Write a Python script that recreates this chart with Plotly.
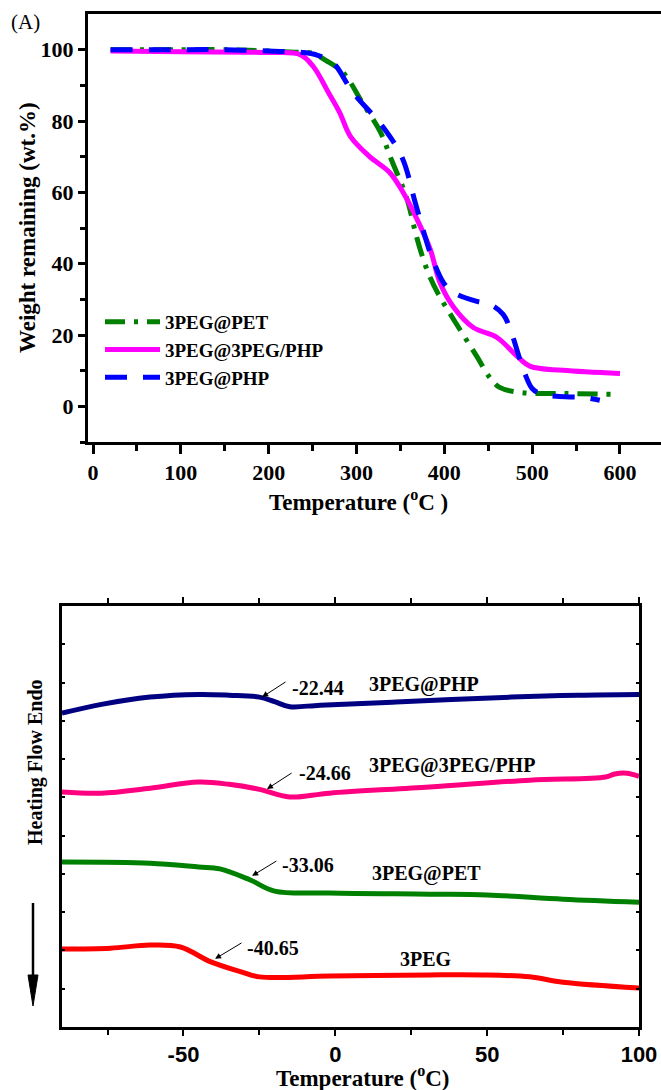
import plotly.graph_objects as go

# ---------------- TGA data (top panel) ----------------
pet_T = [20, 100, 150, 200, 230, 250, 265, 285, 307, 327, 340, 357, 369, 380, 392, 412, 437, 452, 463, 486, 535, 592]
pet_W = [100, 100, 100, 99.6, 99.3, 99.0, 97.0, 93.5, 85.0, 77.0, 69.0, 58.5, 47.0, 38.5, 32.0, 23.8, 14.0, 8.0, 5.3, 3.9, 3.6, 3.4]

mix_T = [20, 100, 200, 236, 251, 268, 281, 293, 315, 338, 353, 369, 384, 395, 410, 433, 460, 483, 498, 535, 600]
mix_W = [99.6, 99.4, 99.2, 98.6, 95.2, 88.0, 82.3, 75.7, 70.0, 65.5, 60.0, 52.4, 44.0, 34.7, 28.0, 22.1, 19.3, 14.0, 11.2, 10.1, 9.2]

php_T = [20, 100, 150, 200, 240, 255, 273, 296, 330, 352, 367, 380, 384, 399, 410, 437, 452, 467, 475, 486, 492, 500, 509, 528, 558, 577]
php_W = [100, 100, 100, 99.6, 99.2, 98.5, 96.4, 88.0, 78.4, 69.7, 57.0, 46.0, 43.0, 34.7, 32.0, 29.4, 28.6, 25.8, 21.6, 13.2, 9.0, 5.0, 3.6, 2.8, 2.5, 1.7]

tga_names = ["3PEG@PET", "3PEG@3PEG/PHP", "3PEG@PHP"]
tga_xticks = [0, 100, 200, 300, 400, 500, 600]
tga_yticks = [0, 20, 40, 60, 80, 100]

# ---------------- DSC data (bottom panel) ----------------
dsc_php_T = [-90, -77, -61, -45, -35, -25, -20, -15, -5, 20, 58, 80, 100]
dsc_php_H = [8.20, 8.43, 8.62, 8.69, 8.67, 8.62, 8.50, 8.37, 8.41, 8.49, 8.62, 8.67, 8.69]

dsc_mix_T = [-90, -77, -61, -45, -35, -25, -15, -2, 31, 64, 89, 92, 96, 100]
dsc_mix_H = [6.14, 6.11, 6.24, 6.40, 6.34, 6.21, 6.01, 6.11, 6.27, 6.45, 6.53, 6.61, 6.63, 6.55]

dsc_pet_T = [-90, -61, -45, -38, -28, -20, -2, 31, 50, 75, 100]
dsc_pet_H = [4.31, 4.28, 4.18, 4.13, 3.84, 3.55, 3.50, 3.47, 3.45, 3.34, 3.26]

dsc_peg_T = [-90, -74, -61, -51, -41, -31, -25, -2, 31, 48, 64, 75, 100]
dsc_peg_H = [2.04, 2.06, 2.14, 2.09, 1.70, 1.44, 1.31, 1.33, 1.36, 1.36, 1.31, 1.17, 1.02]

tg_labels = ["-22.44", "-24.66", "-33.06", "-40.65"]
dsc_names = ["3PEG@PHP", "3PEG@3PEG/PHP", "3PEG@PET", "3PEG"]
dsc_xticks = [-50, 0, 50, 100]
dsc_xticktext = ["-50", "0", "50", "100"]

W, H = 661, 1090
SERIF = "Liberation Serif, Times New Roman, serif"

def px(x):
    return x / W

def py(y):
    return 1 - y / H

fig = go.Figure()

fig.add_trace(go.Scatter(x=pet_T, y=pet_W, name=tga_names[0], mode="lines",
                         line=dict(color="#008000", width=5, dash="20px,9px,4px,9px", shape="spline"),
                         xaxis="x", yaxis="y"))
fig.add_trace(go.Scatter(x=mix_T, y=mix_W, name=tga_names[1], mode="lines",
                         line=dict(color="#FF00FF", width=5, shape="spline"),
                         xaxis="x", yaxis="y"))
fig.add_trace(go.Scatter(x=php_T, y=php_W, name=tga_names[2], mode="lines",
                         line=dict(color="#0000FF", width=5, dash="22px,16px", shape="spline"),
                         xaxis="x", yaxis="y"))

dsc_sets = [(dsc_php_T, dsc_php_H, "#000080"),
            (dsc_mix_T, dsc_mix_H, "#FF0080"),
            (dsc_pet_T, dsc_pet_H, "#008000"),
            (dsc_peg_T, dsc_peg_H, "#FF0000")]
for (tx, hy, col), nm in zip(dsc_sets, dsc_names):
    fig.add_trace(go.Scatter(x=tx, y=hy, name=nm, mode="lines", showlegend=False,
                             line=dict(color=col, width=5, shape="spline"),
                             xaxis="x2", yaxis="y2"))

tick_font_serif = dict(family=SERIF, size=22, color="black", weight="bold")

fig.update_layout(
    width=W, height=H, autosize=False,
    margin=dict(l=0, r=0, t=0, b=0, pad=0),
    paper_bgcolor="white", plot_bgcolor="white",
    showlegend=True,
    legend=dict(x=px(100), y=py(303), xanchor="left", yanchor="top",
                font=dict(family=SERIF, size=19, color="black", weight="bold"),
                bgcolor="rgba(0,0,0,0)", itemwidth=55, tracegroupgap=0),
    xaxis=dict(domain=[px(88), 1.0], range=[-5.7, 646.7], anchor="y", automargin=False,
               showline=True, linecolor="black", linewidth=3, mirror=True,
               showgrid=False, zeroline=False,
               ticks="outside", ticklen=9, tickwidth=2.5, tickcolor="black",
               tickvals=tga_xticks,
               minor=dict(tickvals=[50, 150, 250, 350, 450, 550], ticks="outside", ticklen=6, tickwidth=2.5, tickcolor="black"),
               tickfont=tick_font_serif),
    yaxis=dict(domain=[py(442), py(14)], range=[-10, 110], anchor="x", automargin=False,
               showline=True, linecolor="black", linewidth=3,
               showgrid=False, zeroline=False,
               ticks="outside", ticklen=7, tickwidth=2.5, tickcolor="black",
               tickvals=tga_yticks,
               minor=dict(tickvals=[-10, 10, 30, 50, 70, 90], ticks="outside", ticklen=5, tickwidth=2.5, tickcolor="black"),
               tickfont=tick_font_serif),
    xaxis2=dict(domain=[px(62), px(639)], range=[-90, 100], anchor="y2", automargin=False,
                showline=True, linecolor="black", linewidth=3, mirror="ticks",
                showgrid=False, zeroline=False,
                ticks="outside", ticklen=6, tickwidth=2, tickcolor="black",
                tickvals=dsc_xticks, ticktext=dsc_xticktext,
                minor=dict(tickvals=[-75, -25, 25, 75], ticks="outside", ticklen=5, tickwidth=2, tickcolor="black"),
                tickfont=dict(family="Liberation Sans, Arial, sans-serif", size=22, color="black", weight="bold")),
    yaxis2=dict(domain=[py(1027), py(606)], range=[0, 11], anchor="x2", automargin=False,
                showline=True, linecolor="black", linewidth=3, mirror="ticks",
                showgrid=False, zeroline=False,
                ticks="inside", ticklen=3, tickwidth=1.5, tickcolor="black",
                tickvals=[1, 2, 3, 4, 5, 6, 7, 8, 9, 10], showticklabels=False),
)

ann = []
ann.append(dict(text="(A)", x=px(9), y=py(22), xref="paper", yref="paper", xanchor="left", yanchor="middle",
                showarrow=False, font=dict(family=SERIF, size=21, color="black")))
ann.append(dict(text="Weight remaining (wt.%)", x=px(27), y=py(228), xref="paper", yref="paper",
                xanchor="center", yanchor="middle", textangle=-90, showarrow=False,
                font=dict(family=SERIF, size=23, color="black", weight="bold")))
ann.append(dict(text="Temperature (<sup>o</sup>C )", x=px(358), y=py(500), xref="paper", yref="paper",
                xanchor="center", yanchor="middle", showarrow=False,
                font=dict(family=SERIF, size=23, color="black", weight="bold")))
ann.append(dict(text="Heating Flow Endo", x=px(35), y=py(762), xref="paper", yref="paper",
                xanchor="center", yanchor="middle", textangle=-90, showarrow=False,
                font=dict(family=SERIF, size=20, color="black", weight="bold")))
ann.append(dict(text="Temperature (<sup>o</sup>C)", x=px(363), y=py(1076), xref="paper", yref="paper",
                xanchor="center", yanchor="middle", showarrow=False,
                font=dict(family=SERIF, size=23, color="black", weight="bold")))

lab_font = dict(family=SERIF, size=20, color="black", weight="bold")
heads = [(-24.1, 8.62), (-22.5, 6.22), (-27.4, 3.95), (-39.6, 1.78)]
tails = [(-15.9, 9.04), (-13.9, 6.66), (-18.9, 4.36), (-30.4, 2.22)]
tg_pos = [(-14.9, 8.86), (-12.6, 6.64), (-18.2, 4.23), (-29.7, 2.06)]
name_pos = [(10.4, 8.96), (10.4, 6.82), (11.4, 4.02), (20.6, 1.78)]
for (hx, hy), (tx, ty) in zip(heads, tails):
    ann.append(dict(text="", x=hx, y=hy, xref="x2", yref="y2", ax=tx, ay=ty, axref="x2", ayref="y2",
                    showarrow=True, arrowhead=2, arrowsize=1.2, arrowwidth=1, arrowcolor="black"))
for lab, (tx, ty) in zip(tg_labels, tg_pos):
    ann.append(dict(text=lab, x=tx, y=ty, xref="x2", yref="y2", xanchor="left", yanchor="middle",
                    showarrow=False, font=lab_font))
for nm, (tx, ty) in zip(dsc_names, name_pos):
    ann.append(dict(text=nm, x=tx, y=ty, xref="x2", yref="y2", xanchor="left", yanchor="middle",
                    showarrow=False, font=lab_font))

fig.update_layout(annotations=ann)

# long down arrow beside the heat-flow title
fig.add_shape(type="line", xref="paper", yref="paper", x0=px(33), x1=px(33), y0=py(903), y1=py(980),
              line=dict(color="black", width=2.5))
fig.add_shape(type="path", xref="paper", yref="paper",
              path=f"M {px(28)} {py(975)} L {px(38)} {py(975)} L {px(33)} {py(1006)} Z",
              fillcolor="black", line=dict(color="black", width=1))

fig.write_html("out.html")
